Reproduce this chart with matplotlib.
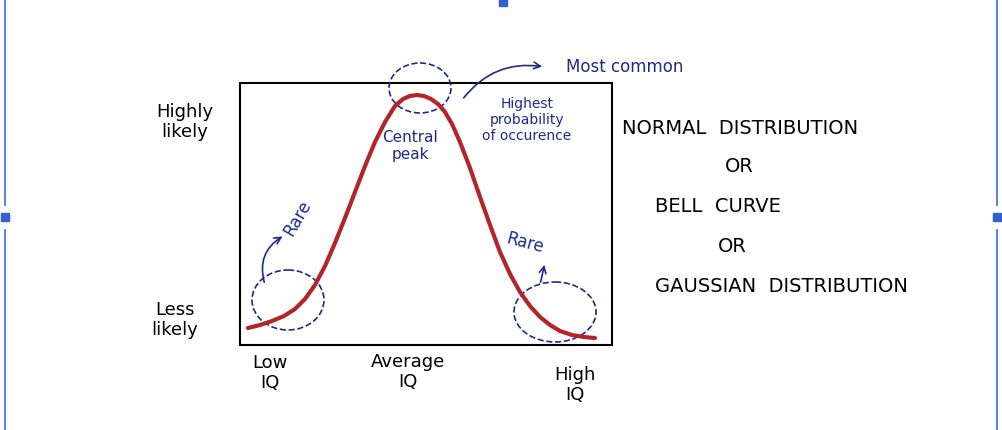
import matplotlib
matplotlib.use("Agg")
import matplotlib.pyplot as plt
from matplotlib.patches import Ellipse, Rectangle, FancyArrowPatch

# curve points (pixel coords, y downwards)
curve_x = [248, 260, 272, 284, 295, 305, 315, 325, 335, 345, 355, 365, 375, 385, 395, 403, 410, 417,
           424, 431, 438, 445, 452, 460, 470, 480, 490, 500, 510, 520, 530, 540, 550, 560, 572, 584, 595]
curve_y = [328, 325, 321, 316, 309, 299, 285, 266, 243, 218, 192, 166, 142, 122, 106, 99, 96, 95,
           96, 99, 104, 112, 124, 142, 168, 197, 225, 252, 274, 292, 306, 317, 325, 331, 335, 337, 338]

title_lines = ["NORMAL  DISTRIBUTION", "OR", "BELL  CURVE", "OR", "GAUSSIAN  DISTRIBUTION"]
title_x = [622, 725, 655, 718, 655]
title_y = [128, 167, 207, 246, 286]

BLUE = "#1f2a8a"
RED = "#b2262a"

fig = plt.figure(figsize=(10.02, 4.30), dpi=100)
ax = fig.add_axes([0, 0, 1, 1])
ax.set_xlim(0, 1002)
ax.set_ylim(430, 0)
ax.axis("off")

# editor selection frame
for xx in (5, 997):
    ax.plot([xx, xx], [0, 205], color="#3b6fd8", lw=1.2)
    ax.plot([xx, xx], [230, 430], color="#3b6fd8", lw=1.2)
for (xx, yy) in [(5, 217), (997, 217), (503, 2)]:
    ax.add_patch(Rectangle((xx - 4, yy - 4), 8, 8, color="#2f5fd0", zorder=5))

ax.add_patch(Rectangle((240, 83), 372, 262, fill=False, lw=1.5, color="black"))
ax.plot(curve_x, curve_y, color=RED, lw=3, solid_capstyle="round", solid_joinstyle="round")

for cx, cy, w, h in [(420, 88, 62, 50), (288, 300, 72, 60), (555, 312, 82, 60)]:
    ax.add_patch(Ellipse((cx, cy), w, h, fill=False, ls="--", lw=1.2, color=BLUE))

tk = dict(color="black", fontsize=13, ha="center", va="center")
ax.text(185, 122, "Highly\nlikely", **tk)
ax.text(175, 320, "Less\nlikely", **tk)
ax.text(270, 373, "Low\nIQ", **tk)
ax.text(408, 372, "Average\nIQ", **tk)
ax.text(575, 385, "High\nIQ", **tk)

for s, x, y in zip(title_lines, title_x, title_y):
    ax.text(x, y, s, fontsize=14, color="black", ha="left", va="center")

bk = dict(color=BLUE, ha="center", va="center")
ax.text(410, 146, "Central\npeak", fontsize=11, **bk)
ax.text(527, 120, "Highest\nprobability\nof occurence", fontsize=10, **bk)
ax.text(625, 67, "Most common", fontsize=12, color=BLUE, ha="center", va="center")
ax.text(298, 218, "Rare", fontsize=12, rotation=60, **bk)
ax.text(525, 243, "Rare", fontsize=12, rotation=-15, **bk)

arrows = [((462, 100), (545, 67), -0.3), ((265, 285), (285, 235), -0.4), ((540, 285), (545, 262), 0.0)]
for (p0, p1, rad) in arrows:
    ax.add_patch(FancyArrowPatch(p0, p1, connectionstyle=f"arc3,rad={rad}",
                                 arrowstyle="->", mutation_scale=12, color=BLUE, lw=1.2))

fig.savefig("out.png", dpi=100)
